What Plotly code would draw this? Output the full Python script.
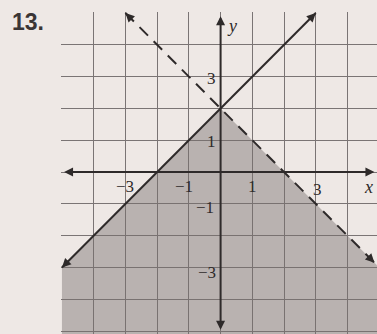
import plotly.graph_objects as go

# solid boundary y = x + 2 and dashed boundary y = -x + 2 (endpoints)
solid_x = [-5, 3]
solid_y = [-3, 5]
dashed_x = [-3, 4.85]
dashed_y = [5, -2.85]

# shaded region y <= x + 2 and y < -x + 2, clipped to the grid
shade_x = [-5, 0, 4.93, 4.93, -5, -5]
shade_y = [-3, 2, -2.93, -5.1, -5.1, -3]

x_tick_vals = [-3, -1, 1, 3]
x_tick_text = ["\u22123", "\u22121", "1", "3"]
y_tick_vals = [3, 1, -1, -3]
y_tick_text = ["3", "1", "\u22121", "\u22123"]

paper = "#eee8e5"
ink = "#2e2a2a"
serif = "Liberation Serif"

fig = go.Figure()
fig.add_trace(go.Scatter(x=shade_x, y=shade_y, fill="toself", mode="none",
                         fillcolor="rgba(120,112,110,0.45)", hoverinfo="skip"))
fig.add_trace(go.Scatter(x=solid_x, y=solid_y, mode="lines",
                         line=dict(color=ink, width=2)))
fig.add_trace(go.Scatter(x=dashed_x, y=dashed_y, mode="lines",
                         line=dict(color=ink, width=2, dash="12px,8px")))

ann = []


def head(x0, y0, x1, y1):
    # short solid stem ending in an arrowhead at (x1, y1)
    dx, dy = x1 - x0, y1 - y0
    n = (dx * dx + dy * dy) ** 0.5
    ann.append(dict(x=x1, y=y1, ax=x1 - 0.35 * dx / n, ay=y1 - 0.35 * dy / n,
                    xref="x", yref="y", axref="x", ayref="y", text="",
                    showarrow=True, arrowhead=2, arrowsize=0.9, arrowwidth=2,
                    arrowcolor=ink))


head(solid_x[1], solid_y[1], solid_x[0], solid_y[0])
head(solid_x[0], solid_y[0], solid_x[1], solid_y[1])
head(dashed_x[1], dashed_y[1], dashed_x[0], dashed_y[0])
head(dashed_x[0], dashed_y[0], dashed_x[1], dashed_y[1])

# axes with arrows on both ends
ann.append(dict(x=4.85, y=0, ax=-4.98, ay=0, xref="x", yref="y", axref="x", ayref="y",
                text="", showarrow=True, arrowhead=2, arrowside="end+start",
                arrowsize=0.9, arrowwidth=2, arrowcolor=ink))
ann.append(dict(x=0, y=4.9, ax=0, ay=-5.0, xref="x", yref="y", axref="x", ayref="y",
                text="", showarrow=True, arrowhead=2, arrowside="end+start",
                arrowsize=0.9, arrowwidth=2, arrowcolor=ink))

x_label_y = [-0.45, -0.45, -0.45, -0.55]
x_label_x = [-3, -1.15, 1, 3.05]
for xv, yv, t in zip(x_label_x, x_label_y, x_tick_text):
    ann.append(dict(x=xv, y=yv, text=t, showarrow=False, xref="x", yref="y",
                    font=dict(family=serif, size=17, color=ink)))
y_label_x = [-0.3, -0.3, -0.5, -0.42]
y_label_y = [2.95, 0.95, -1.1, -3.15]
for xv, yv, t in zip(y_label_x, y_label_y, y_tick_text):
    ann.append(dict(x=xv, y=yv, text=t, showarrow=False, xref="x", yref="y",
                    font=dict(family=serif, size=17, color=ink)))
ann.append(dict(x=4.65, y=-0.47, text="<i>x</i>", showarrow=False, xref="x", yref="y",
                font=dict(family=serif, size=18, color=ink)))
ann.append(dict(x=0.35, y=4.6, text="<i>y</i>", showarrow=False, xref="x", yref="y",
                font=dict(family=serif, size=18, color=ink)))
ann.append(dict(x=-0.105, y=0.97, text="<b>13.</b>", showarrow=False,
                xref="paper", yref="paper", xanchor="center", yanchor="middle",
                font=dict(family="Liberation Sans", size=23, color="#3a3535")))

fig.update_layout(
    width=377, height=334,
    margin=dict(l=61, r=0, t=12, b=0, autoexpand=False),
    paper_bgcolor=paper, plot_bgcolor=paper,
    showlegend=False,
    annotations=ann,
    xaxis=dict(range=[-5.03, 4.93], dtick=1, tick0=0, showgrid=True,
               gridcolor="#7a7474", gridwidth=1, zeroline=False,
               showticklabels=False, ticks=""),
    yaxis=dict(range=[-5.09, 5.03], dtick=1, tick0=0, showgrid=True,
               gridcolor="#7a7474", gridwidth=1, zeroline=False,
               showticklabels=False, ticks=""),
)

# the page's default 8px body margin would shift the whole figure
fig.write_html("out.html", config={"displayModeBar": False},
               post_script="document.body.style.margin='0px';")
